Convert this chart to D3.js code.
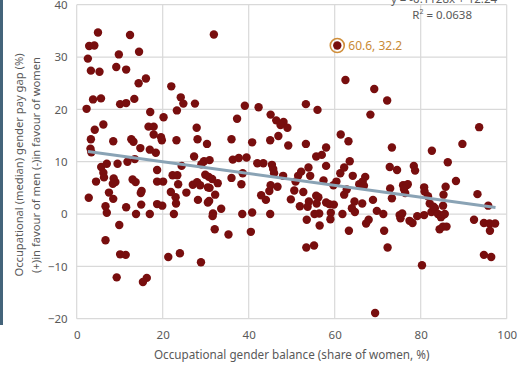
<!DOCTYPE html>
<html>
<head>
<meta charset="utf-8">
<script src="https://cdn.jsdelivr.net/npm/d3@7"></script>
<style>
  html, body { margin: 0; padding: 0; background: #ffffff; }
  svg { display: block; font-family: "Noto Sans", "Liberation Sans", sans-serif; }
</style>
</head>
<body>
<svg id="chart" width="520" height="368"></svg>
<script>
// Share of women in each occupation (%)
const shareWomen = [
  4.95, 12.4, 2.9, 4.1, 9.8, 14.5, 2.6, 3.3, 5.3, 9.2, 11.5, 14.4, 16.1, 22.0, 24.2, 24.8,
  3.8, 5.65, 10.1, 11.5, 13.4, 2.3, 17.1, 20.2, 23.3, 6.2, 4.2, 16.7, 17.9, 17.9, 19.6, 19.8,
  23.2, 3.3, 8.5, 12.7, 13.2, 3.2, 3.4, 14.8, 17.0, 18.4, 13.5, 11.8, 5.7, 7.0, 9.5, 6.2,
  6.35, 4.5, 8.6, 9.0, 8.4, 13.0, 13.7, 18.7, 18.7, 20.1, 22.3, 23.4, 23.6, 24.4, 7.5, 2.8,
  8.5, 14.9, 15.1, 6.7, 7.0, 11.5, 15.0, 18.7, 19.9, 13.8, 17.0, 21.9, 23.0, 23.1, 22.6, 9.9,
  6.7, 10.1, 11.4, 21.3, 24.0, 9.3, 16.3, 15.4,
  31.9, 27.5, 39.1, 42.3, 37.3, 45.1, 46.4, 48.1, 47.4, 49.0, 27.9, 28.1, 30.3, 36.0, 40.8, 45.0,
  46.9, 49.2, 27.3, 29.6, 30.9, 29.0, 36.3, 37.7, 39.5, 42.0, 43.4, 45.4, 45.7, 45.9, 48.0, 25.5,
  27.0, 28.0, 28.7, 29.9, 30.7, 31.5, 30.9, 30.5, 32.8, 32.2, 28.2, 30.5, 30.8, 31.7, 31.6, 33.6,
  36.0, 38.3, 38.6, 38.5, 40.8, 42.9, 44.0, 44.8, 45.1, 46.7, 45.0, 49.8, 32.1, 35.3, 40.5, 28.9,
  60.6, 62.5, 69.2, 72.2, 53.3, 56.0, 68.3, 53.3, 58.0, 57.0, 55.7, 61.4, 63.2, 73.3, 63.5, 82.6,
  86.3, 89.7, 93.6, 72.8, 74.5, 78.4, 78.7, 51.5, 52.2, 53.9, 54.3, 58.0, 57.4, 60.4, 61.3, 62.2,
  64.2, 67.1, 65.7, 66.5, 66.8, 50.9, 50.6, 52.7, 55.7, 56.2, 54.0, 53.7, 51.9, 55.8, 58.0, 58.7,
  59.8, 59.7, 62.2, 62.8, 64.6, 64.0, 64.7, 66.4, 68.9, 69.8, 71.3, 67.3, 67.9, 72.9, 73.3, 61.8,
  59.1, 59.0, 56.4, 55.3, 56.5, 53.5, 63.3, 71.5, 53.4, 55.2, 72.3, 69.4, 80.3, 94.7, 96.4, 92.4,
  94.7, 96.1, 96.0, 97.3, 95.7, 93.2, 75.9, 76.7, 77.0, 76.1, 76.4, 80.8, 80.9, 81.7, 85.8, 85.3,
  88.2, 82.1, 82.5, 83.3, 83.0, 85.2, 84.0, 84.7, 85.2, 85.6, 80.8, 79.2, 75.1, 75.3, 75.7, 77.4,
  78.1, 84.4, 85.2, 86.0
];

// Median gender pay gap in the same occupations (%)
const payGap = [
  34.7, 34.2, 32.1, 32.2, 30.5, 31.0, 29.7, 27.4, 27.2, 28.1, 27.6, 25.0, 25.9, 24.4, 22.3, 21.1,
  21.9, 22.1, 21.0, 21.2, 22.0, 20.1, 19.5, 18.5, 19.8, 17.1, 16.1, 16.7, 16.7, 15.2, 14.7, 14.1,
  14.1, 14.3, 13.9, 14.3, 13.8, 12.5, 11.8, 12.6, 12.3, 11.7, 10.5, 10.0, 9.0, 9.6, 9.6, 7.9,
  7.0, 6.2, 6.8, 6.1, 5.8, 6.6, 6.1, 8.4, 6.2, 6.2, 7.4, 7.4, 5.7, 9.2, 4.1, 3.1,
  2.9, 4.0, 4.4, 1.5, 0.25, 1.3, 1.8, 1.9, 1.6, 0.0, 0.0, 4.2, 3.2, 2.0, 0.0, -2.1,
  -5.0, -7.7, -7.8, -8.2, -7.5, -12.1, -12.2, -13.0,
  34.3, 21.1, 20.7, 20.4, 18.2, 19.0, 17.9, 17.6, 17.0, 16.5, 16.5, 14.3, 13.4, 14.3, 13.7, 14.1,
  14.9, 13.1, 11.0, 10.1, 10.3, 9.5, 10.4, 10.7, 10.8, 9.7, 9.7, 9.4, 8.6, 7.8, 7.3, 4.1,
  5.6, 6.1, 5.5, 7.5, 7.1, 6.7, 5.0, 5.1, 5.9, 3.7, 2.7, 2.2, 2.5, 0.1, -0.4, 1.0,
  6.9, 5.7, 7.8, 0.0, 0.3, 3.6, 2.7, 4.4, 5.5, 5.2, 0.0, 2.8, -2.9, -3.9, -3.4, -9.2,
  32.2, 25.6, 23.9, 21.7, 21.0, 19.9, 19.0, 13.4, 12.7, 11.3, 11.0, 15.2, 13.9, 12.7, 10.1, 12.1,
  9.9, 13.4, 16.6, 9.0, 8.4, 9.2, 8.3, 7.3, 8.1, 8.9, 7.3, 9.2, 6.4, 6.2, 7.8, 8.9,
  7.3, 7.1, 5.7, 6.2, 5.4, 6.2, 4.5, 4.2, 3.5, 3.2, 2.4, 1.4, 1.5, 2.0, 2.2, 1.9,
  1.8, 5.5, 3.7, 4.7, 2.4, 1.1, 0.4, 2.0, 2.7, 0.6, 0.0, -1.8, -1.1, 4.9, 3.0, 0.0,
  0.25, -1.0, 0.1, 0.0, -2.2, -1.1, -3.2, -3.2, -6.4, -6.0, -6.4, -18.9, -9.8, -7.8, -8.2, -1.1,
  -1.7, -3.2, -1.8, -1.8, 1.6, 3.8, 5.5, 5.5, 5.7, 4.8, 4.0, 5.1, 4.3, 3.4, 5.2, 3.7,
  6.3, 2.0, 0.4, 1.1, 1.4, 1.6, 0.0, -0.6, -0.2, 0.0, -0.2, -0.4, -0.2, -0.8, 0.1, -1.3,
  -1.7, -2.9, -2.4, -2.4
];

// Axis ticks
const xTicks = [0, 20, 40, 60, 80, 100];
const yTicks = [-20, -10, 0, 10, 20, 30, 40];

// Linear trendline and its fit statistics
const trendSlope = -0.1128;
const trendIntercept = 12.24;
const trendRange = [2.6, 97.4];
const rSquared = "0.0638";

// Occupation called out on the chart
const highlight = { x: 60.6, y: 32.2 };

const points = shareWomen.map((v, i) => ({ x: v, y: payGap[i] }));

const svg = d3.select("#chart");
const plot = { left: 76.7, right: 506.7, top: 4.7, bottom: 318.7 };

const x = d3.scaleLinear().domain([0, 100]).range([plot.left, plot.right]);
const y = d3.scaleLinear().domain([-20, 40]).range([plot.bottom, plot.top]);

const gridColor = "#d9d9d9";
const textColor = "#595959";

// dark accent strip on the left edge
svg.append("rect")
  .attr("x", 0).attr("y", 0)
  .attr("width", 3).attr("height", 325)
  .attr("fill", "#44647a");

// gridlines
const grid = svg.append("g");
grid.selectAll("line.h").data(yTicks).join("line")
  .attr("x1", plot.left).attr("x2", plot.right)
  .attr("y1", d => y(d)).attr("y2", d => y(d))
  .attr("stroke", gridColor).attr("stroke-width", 1.2);
grid.selectAll("line.v").data(xTicks).join("line")
  .attr("y1", plot.top).attr("y2", plot.bottom)
  .attr("x1", d => x(d)).attr("x2", d => x(d))
  .attr("stroke", gridColor).attr("stroke-width", 1.2);

// axes (labels only; lines are the gridlines)
const xAxis = svg.append("g")
  .attr("transform", `translate(0,${plot.bottom})`)
  .call(d3.axisBottom(x).tickValues(xTicks).tickSize(0).tickPadding(12).tickFormat(d3.format("d")));
xAxis.select(".domain").remove();
xAxis.selectAll("text").attr("fill", textColor).attr("font-size", 11.5)
  .attr("font-family", "Noto Sans, sans-serif");

const yAxis = svg.append("g")
  .attr("transform", `translate(${plot.left},0)`)
  .call(d3.axisLeft(y).tickValues(yTicks).tickSize(0).tickPadding(9).tickFormat(d3.format("d")));
yAxis.select(".domain").remove();
yAxis.selectAll("text").attr("fill", textColor).attr("font-size", 11.5)
  .attr("font-family", "Noto Sans, sans-serif");

// axis titles
svg.append("text")
  .attr("x", (plot.left + plot.right) / 2).attr("y", 359)
  .attr("text-anchor", "middle")
  .attr("fill", textColor).attr("font-size", 11.7)
  .text("Occupational gender balance (share of women, %)");

const yTitle = svg.append("text")
  .attr("transform", "translate(0,165) rotate(-90)")
  .attr("text-anchor", "middle")
  .attr("fill", textColor).attr("font-size", 11.2);
yTitle.append("tspan").attr("x", 0).attr("y", 23)
  .text("Occupational (median) gender pay gap (%)");
yTitle.append("tspan").attr("x", 0).attr("y", 40)
  .text("(+)in favour of men  (-)in favour of women");

// markers
svg.append("g").selectAll("circle").data(points).join("circle")
  .attr("cx", d => x(d.x)).attr("cy", d => y(d.y))
  .attr("r", 4.2)
  .attr("fill", "#780e0e");

// trendline
svg.append("line")
  .attr("x1", x(trendRange[0])).attr("y1", y(trendSlope * trendRange[0] + trendIntercept))
  .attr("x2", x(trendRange[1])).attr("y2", y(trendSlope * trendRange[1] + trendIntercept))
  .attr("stroke", "#8aa3b5").attr("stroke-width", 3).attr("stroke-linecap", "butt");

// trendline equation and R²
svg.append("text")
  .attr("x", 444).attr("y", 3)
  .attr("text-anchor", "middle")
  .attr("fill", textColor).attr("font-size", 11.5)
  .text(`y = ${trendSlope}x + ${trendIntercept}`);

const r2 = svg.append("text")
  .attr("x", 472).attr("y", 18.5)
  .attr("text-anchor", "end")
  .attr("fill", textColor).attr("font-size", 11.5);
r2.append("tspan").text("R");
r2.append("tspan").attr("font-size", 7).attr("dy", -5).text("2");
r2.append("tspan").attr("dy", 5).text(` = ${rSquared}`);

// highlighted occupation
svg.append("circle")
  .attr("cx", x(highlight.x)).attr("cy", y(highlight.y))
  .attr("r", 7)
  .attr("fill", "none")
  .attr("stroke", "#d08f3c").attr("stroke-width", 1.6);
svg.append("text")
  .attr("x", x(highlight.x) + 11).attr("y", y(highlight.y) + 4.5)
  .attr("fill", "#c98a35").attr("font-size", 12)
  .text(`${highlight.x}, ${highlight.y}`);
</script>
</body>
</html>
